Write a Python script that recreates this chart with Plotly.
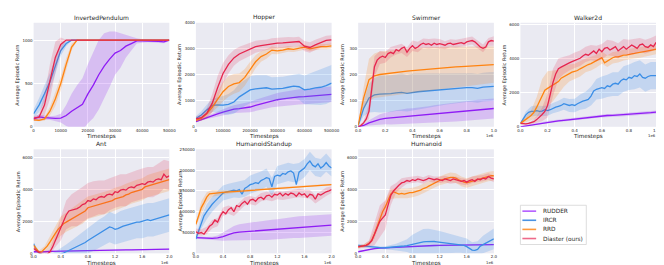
import numpy as np
import plotly.graph_objects as go

W, H = 664, 265

METHODS = ["RUDDER", "IRCR", "RRD", "Diaster (ours)"]
COLORS = ["#8f1cf5", "#3b8ee6", "#ff8310", "#e6264e"]
FILLS = ["rgba(160,60,245,0.25)", "rgba(59,142,230,0.22)", "rgba(255,131,16,0.20)", "rgba(230,38,78,0.18)"]
LEGEND_COLORS = ["#b45cff", "#4a93e3", "#ff9a3c", "#ee6a8a"]
TITLES = ["InvertedPendulum", "Hopper", "Swimmer", "Walker2d", "Ant", "HumanoidStandup", "Humanoid"]

# Each panel has a fine timestep grid; a series may be sampled on the full grid
# or on every other grid point. Std arrays are sampled on every other grid point.

# ---------------- InvertedPendulum ----------------
IP_T = list(range(0, 50001, 2000))
IP_RUDDER = [90, 115, 105, 100, 98, 100, 130, 180, 220, 260, 380, 480, 600, 700, 780, 850, 880, 930, 960, 990, 990, 990, 990, 985, 980, 1000]
IP_RUDDER_SD = [20, 30, 25, 20, 30, 50, 120, 200, 260, 300, 340, 380, 400, 380, 320, 250, 200, 130, 80, 30, 20, 15, 15, 15, 15, 10]
IP_IRCR = [150, 250, 380, 520, 700, 880, 960, 1000, 1000, 1000, 1000, 1000, 1000, 1000, 1000, 1000, 1000, 1000, 1000, 1000, 1000, 1000, 1000, 1000, 1000, 1000]
IP_IRCR_SD = [50, 80, 100, 100, 90, 60, 30, 5, 0, 0, 0, 0, 0, 0, 0, 0, 0, 0, 0, 0, 0, 0, 0, 0, 0, 0]
IP_RRD = [80, 75, 90, 180, 320, 500, 720, 920, 1000, 1000, 1000, 1000, 1000, 1000, 1000, 1000, 1000, 1000, 1000, 1000, 1000, 1000, 1000, 1000, 1000, 1000]
IP_RRD_SD = [10, 10, 20, 50, 80, 80, 70, 40, 5, 0, 0, 0, 0, 0, 0, 0, 0, 0, 0, 0, 0, 0, 0, 0, 0, 0]
IP_DIASTER = [100, 110, 250, 520, 800, 950, 1000, 1000, 1000, 1000, 1000, 1000, 1000, 995, 995, 995, 1000, 1000, 1000, 1000, 1000, 1000, 1000, 1000, 1000, 1000]
IP_DIASTER_SD = [20, 30, 120, 200, 180, 80, 5, 0, 0, 0, 0, 0, 0, 3, 3, 3, 0, 0, 0, 0, 0, 0, 0, 0, 0, 0]

# ---------------- Hopper ----------------
HOP_T = list(range(0, 500001, 20000))
HOP_RUDDER = [200, 280, 360, 430, 500, 560, 620, 680, 700, 730, 760, 820, 880, 940, 1000, 1040, 1070, 1100, 1130, 1150, 1160, 1180, 1190, 1210, 1230, 1250]
HOP_RUDDER_SD = [30, 40, 60, 80, 100, 120, 140, 150, 170, 180, 200, 220, 230, 240, 250, 260, 270, 280, 290, 290, 290, 290, 300, 300, 300, 300]
HOP_IRCR = [320, 450, 650, 820, 840, 830, 860, 950, 1150, 1300, 1420, 1460, 1480, 1500, 1450, 1460, 1480, 1520, 1560, 1540, 1420, 1450, 1500, 1520, 1580, 1680]
HOP_IRCR_SD = [80, 150, 200, 250, 300, 350, 400, 450, 500, 500, 520, 520, 500, 480, 450, 440, 440, 440, 450, 500, 550, 600, 650, 680, 700, 700]
HOP_RRD = [250, 320, 500, 750, 1050, 1350, 1550, 1650, 1700, 1900, 2200, 2500, 2700, 2800, 2950, 2920, 2950, 3000, 2980, 3030, 3060, 3000, 3050, 3080, 3080, 3110]
HOP_RRD_SD = [50, 80, 120, 200, 300, 380, 400, 380, 350, 320, 300, 250, 200, 180, 150, 130, 120, 110, 100, 100, 100, 100, 100, 100, 100, 100]
HOP_DIASTER = [300, 350, 520, 900, 1500, 2050, 2400, 2650, 2800, 2900, 2980, 3080, 3120, 3150, 3200, 3220, 3230, 3250, 3260, 3280, 3100, 3050, 3150, 3250, 3320, 3340]
HOP_DIASTER_SD = [100, 120, 200, 350, 450, 400, 350, 300, 280, 260, 250, 230, 220, 200, 200, 200, 200, 200, 180, 180, 200, 200, 200, 190, 180, 180]

# ---------------- Swimmer ----------------
SWIM_T = list(range(0, 1000001, 20000))
SWIM_RUDDER = [0, 5, 15, 22, 28, 32, 34, 36, 38, 40, 41, 43, 45, 47, 49, 51, 53, 55, 57, 59, 61, 63, 65, 66, 68, 70]
SWIM_RUDDER_SD = [0, 5, 10, 15, 20, 22, 25, 27, 28, 30, 30, 30, 31, 32, 33, 34, 35, 36, 37, 37, 37, 38, 38, 38, 38, 38]
SWIM_IRCR = [5, 70, 110, 122, 125, 125, 127, 130, 132, 128, 132, 134, 136, 138, 140, 142, 144, 145, 147, 149, 150, 150, 147, 152, 154, 155]
SWIM_IRCR_SD = [2, 30, 55, 65, 70, 70, 70, 70, 72, 70, 72, 70, 68, 66, 64, 62, 60, 58, 57, 56, 55, 55, 55, 55, 55, 55]
SWIM_RRD = [5, 110, 180, 195, 200, 203, 205, 208, 210, 213, 215, 217, 219, 221, 223, 225, 227, 228, 229, 230, 231, 232, 233, 235, 237, 238]
SWIM_RRD_SD = [2, 40, 80, 85, 88, 88, 88, 87, 87, 86, 85, 85, 84, 83, 82, 81, 80, 79, 78, 77, 76, 75, 74, 73, 72, 70]
SWIM_DIASTER = [0, 5, 15, 30, 60, 150, 230, 255, 265, 270, 265, 280, 285, 280, 295, 290, 300, 305, 285, 300, 310, 300, 305, 315, 320, 315,
                318, 312, 320, 315, 318, 315, 312, 318, 320, 315, 318, 320, 322, 318, 325, 328, 330, 325, 315, 305, 300, 305, 325, 330, 328]
SWIM_DIASTER_SD = [2, 5, 30, 40, 25, 20, 20, 18, 18, 18, 20, 20, 18, 18, 18, 18, 15, 15, 15, 15, 15, 15, 15, 15, 15, 18]

# ---------------- Walker2d ----------------
WALK_T = list(range(0, 1000001, 20000))
WALK_RUDDER = [0, 50, 120, 180, 230, 280, 320, 350, 380, 420, 450, 490, 530, 570, 610, 650, 660, 670, 690, 700, 710, 740, 770, 800, 830, 860]
WALK_RUDDER_SD = [10, 30, 40, 50, 55, 60, 65, 70, 70, 75, 75, 80, 80, 80, 80, 85, 85, 85, 90, 90, 90, 90, 95, 95, 100, 100]
WALK_IRCR = [200, 450, 700, 850, 900, 900, 950, 900, 920, 1000, 950, 1000, 1100, 1150, 1200, 1250, 1350, 1300, 1250, 1300, 1250, 1350, 1450, 1500, 1550,
             1600, 1800, 2100, 2200, 2250, 2300, 2250, 2400, 2350, 2500, 2550, 2500, 2700, 2800, 2750, 2900, 2850, 3000, 2950, 3100, 2900, 2850, 2950, 3000, 3000, 3000]
WALK_IRCR_SD = [50, 200, 300, 300, 300, 300, 300, 320, 350, 380, 400, 450, 500, 550, 600, 650, 650, 700, 700, 750, 750, 800, 800, 800, 800, 800]
WALK_RRD = [200, 300, 420, 550, 680, 850, 1150, 1500, 1900, 2150, 2250, 2350, 2400, 2500, 2650, 2850, 2950, 3050, 3150, 3200, 3250, 3300, 3400, 3500, 3600,
            3650, 3700, 3800, 3850, 3950, 4050, 3750, 3850, 4000, 4050, 4100, 4100, 4150, 4200, 4200, 4250, 4280, 4300, 4320, 4350, 4400, 4420, 4450, 4470, 4500, 4550]
WALK_RRD_SD = [50, 150, 300, 600, 900, 1000, 900, 700, 600, 500, 450, 450, 400, 400, 380, 360, 350, 340, 330, 320, 310, 300, 300, 300, 300, 300]
WALK_DIASTER = [200, 180, 170, 200, 230, 300, 420, 560, 720, 900, 1250, 1900, 2600, 3100, 3400, 3500, 3600, 3680, 3750, 3820, 3900, 3950, 4020, 4150, 4250,
                4200, 4350, 4450, 4300, 4550, 4400, 4600, 4650, 4500, 4600, 4700, 4450, 4600, 4700, 4550, 4650, 4800, 4700, 4600, 4800, 4850, 4700, 4650, 4800, 4700, 4950]
WALK_DIASTER_SD = [50, 50, 80, 200, 400, 700, 800, 600, 500, 450, 450, 450, 450, 450, 450, 450, 450, 450, 450, 450, 450, 450, 400, 400, 400, 400]

# ---------------- Ant ----------------
ANT_T = list(range(0, 2000001, 40000))
ANT_RUDDER = [100, 80, 100, 120, 130, 140, 150, 160, 165, 170, 180, 185, 190, 195, 200, 205, 210, 215, 220, 225, 230, 235, 240, 245, 250, 260]
ANT_RUDDER_SD = [30, 30, 30, 30, 30, 30, 30, 30, 30, 30, 30, 30, 30, 30, 30, 30, 30, 30, 30, 30, 30, 30, 30, 30, 30, 30]
ANT_IRCR = [600, 200, 0, -100, -150, -200, -200, -180, -150, -100, -50, 20, 100, 180, 260, 340, 420, 500, 580, 680, 800, 900, 1000, 1100, 1200,
            1300, 1400, 1550, 1650, 1600, 1500, 1550, 1650, 1700, 1750, 1800, 1850, 1900, 1950, 1950, 2000, 2050, 2100, 2050, 2100, 2150, 2200, 2250, 2300, 2350, 2400]
ANT_IRCR_SD = [100, 100, 100, 150, 250, 350, 450, 550, 650, 750, 800, 850, 900, 900, 950, 950, 1000, 1000, 1000, 1000, 1050, 1050, 1050, 1050, 1050, 1050]
ANT_RRD = [500, 250, 80, 100, 250, 450, 700, 1000, 1250, 1500, 1700, 1850, 1950, 2050, 2150, 2250, 2350, 2450, 2550, 2650, 2850, 2900, 2950, 3000, 3050,
           3100, 3150, 3200, 3250, 3300, 3400, 3450, 3500, 3550, 3650, 3700, 3800, 3850, 3900, 3950, 4000, 4150, 4200, 4250, 4300, 4350, 4400, 4450, 4500, 4550, 4600]
ANT_RRD_SD = [100, 100, 200, 400, 500, 600, 600, 650, 650, 700, 700, 700, 700, 700, 700, 700, 700, 700, 700, 700, 700, 700, 700, 700, 700, 700]
ANT_DIASTER = [300, 150, 50, -50, -80, -50, 100, 400, 800, 1200, 1500, 1900, 2400, 2650, 2700, 2750, 2800, 2900, 3050, 3100, 3300, 3250, 3400, 3350, 3500,
               3550, 3500, 3650, 3700, 3650, 3850, 3800, 3950, 4000, 3950, 4100, 4150, 4100, 4250, 4300, 4350, 4300, 4450, 4500, 4450, 4600, 4650, 4600, 4950, 4750, 4850]
ANT_DIASTER_SD = [100, 100, 100, 200, 400, 700, 900, 1000, 1100, 1100, 1100, 1100, 1050, 1050, 1000, 1000, 1000, 1000, 950, 950, 950, 950, 950, 950, 900, 900]

# ---------------- HumanoidStandup ----------------
HS_T = list(range(0, 2000001, 40000))
HS_RUDDER = [38000, 37000, 36000, 36000, 37000, 40000, 45000, 49000, 51000, 52000, 53000, 54000, 55000, 56000, 57000, 58000, 59000, 61000, 62000, 63000, 64000, 65000, 66000, 66500, 67000, 68000]
HS_RUDDER_SD = [3000, 3000, 3000, 4000, 6000, 10000, 14000, 17000, 19000, 20000, 21000, 22000, 23000, 24000, 24000, 24000, 25000, 25000, 25000, 26000, 26000, 26000, 26000, 26000, 26000, 26000]
HS_IRCR = [35000, 55000, 75000, 90000, 100000, 110000, 118000, 125000, 132000, 138000, 145000, 147000, 149000, 150000, 152000, 150000, 153000, 142000, 156000, 160000,
           165000, 167000, 170000, 168000, 175000, 178000, 182000, 180000, 160000, 185000, 188000, 186000, 192000, 190000, 196000, 198000, 193000, 165000, 195000, 200000,
           205000, 215000, 222000, 212000, 208000, 215000, 205000, 210000, 218000, 210000, 205000]
HS_IRCR_SD = [5000, 15000, 18000, 18000, 18000, 18000, 18000, 18000, 20000, 20000, 22000, 22000, 22000, 22000, 22000, 22000, 22000, 22000, 22000, 22000, 22000, 22000, 22000, 22000, 22000, 20000]
HS_RRD = [70000, 90000, 110000, 122000, 135000, 143000, 144000, 145000, 145500, 146000, 146500, 147000, 147500, 148000, 148500, 149000, 149500, 150000, 150500, 151000,
          151500, 152000, 152500, 153000, 153500, 154000, 154500, 155000, 155500, 156000, 156500, 157000, 157500, 158000, 158500, 159000, 159500, 160000, 160500, 161000,
          161500, 162000, 162500, 163000, 163000, 163500, 164000, 164000, 164500, 165000, 165000]
HS_RRD_SD = [5000, 15000, 12000, 8000, 6000, 5000, 4000, 3500, 3000, 3000, 3000, 2500, 2500, 2500, 2500, 2500, 2500, 2000, 2000, 2000, 2000, 2000, 2000, 2000, 2000, 2000]
HS_DIASTER = [52000, 48000, 50000, 46000, 55000, 65000, 70000, 80000, 75000, 90000, 100000, 95000, 105000, 110000, 100000, 115000, 112000, 120000, 125000, 118000,
              128000, 130000, 125000, 133000, 135000, 130000, 138000, 140000, 135000, 142000, 140000, 145000, 138000, 144000, 140000, 145000, 143000, 137000, 145000, 140000,
              143000, 135000, 142000, 140000, 130000, 143000, 140000, 145000, 148000, 150000, 153000]
HS_DIASTER_SD = [8000, 8000, 9000, 10000, 10000, 10000, 10000, 10000, 10000, 10000, 10000, 10000, 10000, 10000, 10000, 10000, 10000, 10000, 10000, 10000, 10000, 10000, 10000, 10000, 10000, 8000]

# ---------------- Humanoid ----------------
HUM_T = list(range(0, 2000001, 40000))
HUM_RUDDER = [100, 180, 250, 300, 330, 350, 370, 390, 410, 430, 450, 460, 470, 480, 490, 500, 505, 510, 515, 520, 525, 530, 535, 540, 545, 550]
HUM_RUDDER_SD = [30, 30, 30, 30, 30, 30, 30, 30, 30, 30, 30, 30, 30, 30, 30, 30, 30, 30, 30, 30, 30, 30, 30, 30, 30, 30]
HUM_IRCR = [500, 480, 450, 420, 400, 380, 360, 350, 340, 340, 350, 360, 370, 380, 400, 420, 440, 460, 480, 520, 560, 620, 660, 700, 720,
            730, 740, 750, 740, 720, 700, 680, 660, 640, 620, 600, 580, 560, 540, 500, 420, 300, 200, 180, 250, 450, 550, 600, 700, 800, 900]
HUM_IRCR_SD = [80, 80, 80, 80, 80, 100, 150, 200, 300, 400, 600, 700, 800, 800, 750, 700, 650, 600, 550, 500, 500, 500, 500, 550, 600, 650]
HUM_RRD = [400, 430, 460, 520, 620, 800, 1200, 1700, 2200, 2600, 2900, 3300, 3700, 3850, 3750, 3700, 3750, 3700, 3750, 3800, 3800, 3850, 3900, 3950, 4050,
           4100, 4200, 4300, 4400, 4450, 4550, 4600, 4650, 4700, 4750, 4750, 4700, 4600, 4500, 4450, 4400, 4450, 4500, 4550, 4600, 4650, 4700, 4750, 4800, 4850, 4850]
HUM_RRD_SD = [100, 100, 150, 300, 350, 350, 300, 300, 300, 300, 300, 300, 300, 300, 300, 300, 300, 300, 300, 300, 300, 300, 300, 300, 300, 300]
HUM_DIASTER = [400, 420, 450, 500, 600, 800, 1200, 1600, 2000, 2200, 2400, 3000, 3600, 3900, 4100, 4250, 4400, 4450, 4550, 4500, 4600, 4550, 4650, 4600, 4550,
               4600, 4700, 4650, 4600, 4650, 4600, 4550, 4650, 4600, 4550, 4650, 4600, 4550, 4500, 4550, 4450, 4550, 4600, 4500, 4650, 4600, 4700, 4650, 4800, 4700, 4650]
HUM_DIASTER_SD = [100, 100, 200, 700, 1000, 900, 600, 300, 300, 200, 200, 200, 200, 200, 200, 200, 200, 200, 200, 200, 200, 200, 200, 200, 200, 200]

# ---------------- axes ----------------
IP_XTICKS = [0, 10000, 20000, 30000, 40000, 50000]
IP_XLABELS = ["0", "10000", "20000", "30000", "40000", "50000"]
HOP_XTICKS = [0, 100000, 200000, 300000, 400000, 500000]
HOP_XLABELS = ["0", "100000", "200000", "300000", "400000", "500000"]
M1_XTICKS = [0, 200000, 400000, 600000, 800000, 1000000]
M1_XLABELS = ["0.0", "0.2", "0.4", "0.6", "0.8", "1.0"]
M2_XTICKS = [0, 400000, 800000, 1200000, 1600000, 2000000]
M2_XLABELS = ["0.0", "0.4", "0.8", "1.2", "1.6", "2.0"]

IP_YTICKS = [0, 500, 1000]
HOP_YTICKS = [0, 1000, 2000, 3000, 4000]
SWIM_YTICKS = [0, 100, 200, 300]
K_YTICKS = [0, 2000, 4000, 6000]
HS_YTICKS = [0, 50000, 100000, 150000, 200000, 250000]

panels = [
    dict(t=IP_T, series=[(IP_RUDDER, IP_RUDDER_SD), (IP_IRCR, IP_IRCR_SD), (IP_RRD, IP_RRD_SD), (IP_DIASTER, IP_DIASTER_SD)],
         xr=[0, 50000], xt=IP_XTICKS, xl=IP_XLABELS, yr=[0, 1200], yt=IP_YTICKS, sci=False),
    dict(t=HOP_T, series=[(HOP_RUDDER, HOP_RUDDER_SD), (HOP_IRCR, HOP_IRCR_SD), (HOP_RRD, HOP_RRD_SD), (HOP_DIASTER, HOP_DIASTER_SD)],
         xr=[0, 500000], xt=HOP_XTICKS, xl=HOP_XLABELS, yr=[0, 4000], yt=HOP_YTICKS, sci=False),
    dict(t=SWIM_T, series=[(SWIM_RUDDER, SWIM_RUDDER_SD), (SWIM_IRCR, SWIM_IRCR_SD), (SWIM_RRD, SWIM_RRD_SD), (SWIM_DIASTER, SWIM_DIASTER_SD)],
         xr=[0, 1000000], xt=M1_XTICKS, xl=M1_XLABELS, yr=[0, 398], yt=SWIM_YTICKS, sci=True),
    dict(t=WALK_T, series=[(WALK_RUDDER, WALK_RUDDER_SD), (WALK_IRCR, WALK_IRCR_SD), (WALK_RRD, WALK_RRD_SD), (WALK_DIASTER, WALK_DIASTER_SD)],
         xr=[0, 1000000], xt=M1_XTICKS, xl=M1_XLABELS, yr=[0, 6100], yt=K_YTICKS, sci=True),
    dict(t=ANT_T, series=[(ANT_RUDDER, ANT_RUDDER_SD), (ANT_IRCR, ANT_IRCR_SD), (ANT_RRD, ANT_RRD_SD), (ANT_DIASTER, ANT_DIASTER_SD)],
         xr=[0, 2000000], xt=M2_XTICKS, xl=M2_XLABELS, yr=[0, 6500], yt=K_YTICKS, sci=True),
    dict(t=HS_T, series=[(HS_RUDDER, HS_RUDDER_SD), (HS_IRCR, HS_IRCR_SD), (HS_RRD, HS_RRD_SD), (HS_DIASTER, HS_DIASTER_SD)],
         xr=[0, 2000000], xt=M2_XTICKS, xl=M2_XLABELS, yr=[0, 250000], yt=HS_YTICKS, sci=True),
    dict(t=HUM_T, series=[(HUM_RUDDER, HUM_RUDDER_SD), (HUM_IRCR, HUM_IRCR_SD), (HUM_RRD, HUM_RRD_SD), (HUM_DIASTER, HUM_DIASTER_SD)],
         xr=[0, 2000000], xt=M2_XTICKS, xl=M2_XLABELS, yr=[0, 6500], yt=K_YTICKS, sci=True),
]

# panel boxes in pixels: (left, top, right, bottom)
COL_X = [(23, 161), (188, 326), (353, 491), (518, 656)]
ROW_Y = [(12, 118), (141, 247)]
boxes = []
for k in range(7):
    r, c = divmod(k, 4)
    boxes.append((COL_X[c][0], ROW_Y[r][0], COL_X[c][1], ROW_Y[r][1]))

TXT = "#262626"
FONT = "DejaVu Sans"


def sub(grid, arr):
    """Timesteps at which an array is sampled (full grid or every n-th point)."""
    n = len(grid)
    step = (n - 1) // (len(arr) - 1)
    return np.array(grid[::step], dtype=float), step


fig = go.Figure()
layout = dict(
    width=W, height=H, margin=dict(l=0, r=0, t=0, b=0),
    paper_bgcolor="white", plot_bgcolor="#EAEAF2", showlegend=False,
    font=dict(family=FONT, color=TXT),
)
annotations = []
shapes = []

for k, p in enumerate(panels):
    sfx = "" if k == 0 else str(k + 1)
    xa, ya = "x" + sfx, "y" + sfx
    L, T, R, B = boxes[k]
    layout["xaxis" + sfx] = dict(
        domain=[L / W, R / W], anchor=ya, range=p["xr"], tickvals=p["xt"], ticktext=p["xl"],
        showgrid=True, gridcolor="white", gridwidth=0.8, zeroline=False, showline=False,
        ticks="", tickfont=dict(size=4, color=TXT, family=FONT), fixedrange=True,
    )
    layout["yaxis" + sfx] = dict(
        domain=[1 - B / H, 1 - T / H], anchor=xa, range=p["yr"], tickvals=p["yt"], tickformat="d",
        showgrid=True, gridcolor="white", gridwidth=0.8, zeroline=False, showline=False,
        ticks="", tickfont=dict(size=4, color=TXT, family=FONT), fixedrange=True,
    )
    for m, (mean, sd) in enumerate(p["series"]):
        tm, _ = sub(p["t"], mean)
        ts, _ = sub(p["t"], sd)
        mean = np.array(mean, dtype=float)
        sd = np.array(sd, dtype=float)
        # mean at the std sampling points (subsample of the mean array)
        mstep = (len(mean) - 1) // (len(sd) - 1)
        mb = mean[::mstep]
        up, lo = mb + sd, mb - sd
        fig.add_trace(go.Scatter(
            x=np.concatenate([ts, ts[::-1]]), y=np.concatenate([up, lo[::-1]]),
            xaxis=xa, yaxis=ya, mode="lines", line=dict(width=0), fill="toself",
            fillcolor=FILLS[m], hoverinfo="skip", showlegend=False))
        fig.add_trace(go.Scatter(
            x=tm, y=mean, xaxis=xa, yaxis=ya, mode="lines", name=METHODS[m],
            line=dict(color=COLORS[m], width=1.3), showlegend=False))
    cx = (L + R) / 2 / W
    annotations.append(dict(text=TITLES[k], x=cx, y=1 - (T - 5.5) / H, xref="paper", yref="paper",
                            showarrow=False, font=dict(size=6, color=TXT), xanchor="center", yanchor="middle"))
    annotations.append(dict(text="Timesteps", x=cx, y=1 - (B + 10) / H, xref="paper", yref="paper",
                            showarrow=False, font=dict(size=5.6, color=TXT), xanchor="center", yanchor="middle"))
    annotations.append(dict(text="Average Episodic Return", x=(L - 16) / W, y=1 - (T + B) / 2 / H,
                            xref="paper", yref="paper", textangle=-90, showarrow=False,
                            font=dict(size=5.0, color=TXT), xanchor="center", yanchor="middle"))
    if p["sci"]:
        annotations.append(dict(text="1e6", x=(R - 4) / W, y=1 - (B + 9) / H, xref="paper", yref="paper",
                                showarrow=False, font=dict(size=3.8, color=TXT), xanchor="center", yanchor="middle"))

# legend box (manual, compact like matplotlib)
LX0, LY0, LX1, LY1 = 518, 198, 585, 238
shapes.append(dict(type="rect", xref="paper", yref="paper", x0=LX0 / W, x1=LX1 / W, y0=1 - LY1 / H, y1=1 - LY0 / H,
                   fillcolor="white", line=dict(color="#d4d4d4", width=0.8)))
for m, name in enumerate(METHODS):
    yy = 1 - (204 + 9.3 * m) / H
    shapes.append(dict(type="line", xref="paper", yref="paper", x0=520 / W, x1=534 / W, y0=yy, y1=yy,
                       line=dict(color=LEGEND_COLORS[m], width=1.6)))
    annotations.append(dict(text=name, x=538.5 / W, y=yy, xref="paper", yref="paper", showarrow=False,
                            xanchor="left", yanchor="middle", font=dict(size=5.8, color=TXT)))

layout["annotations"] = annotations
layout["shapes"] = shapes
fig.update_layout(**layout)
fig.write_html("out.html")
